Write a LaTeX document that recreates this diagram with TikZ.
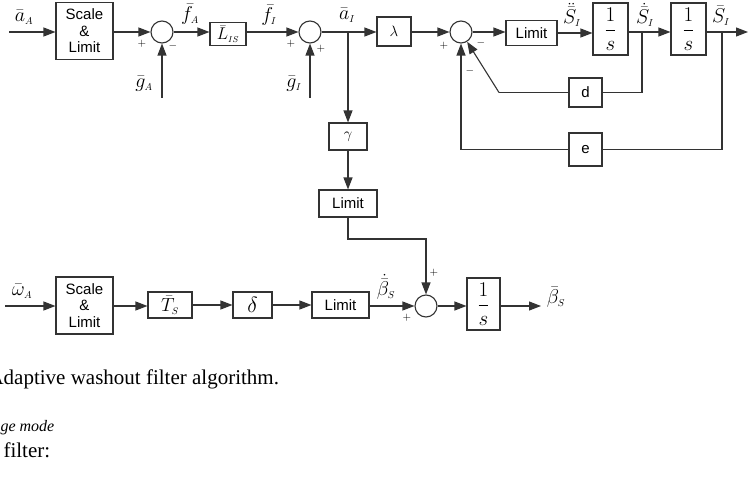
\RequirePackage{fix-cm}
\documentclass[tikz,border=0pt]{standalone}
\usepackage{amsmath, amssymb}
\usepackage{fontspec}
\setmainfont{Liberation Serif}
\setsansfont{Liberation Sans}
\usepackage{tikz}
\usetikzlibrary{arrows.meta, positioning, calc}

\newcommand{\sbs}[1]{_{\scriptscriptstyle #1}}

\tikzset{
  blk/.style={draw=black!80, rectangle, inner sep=0pt, align=center, font=\sffamily\fontsize{15}{16.5}\selectfont},
  mbig/.style={font=\fontsize{21}{21}\selectfont},
  sum/.style={draw=black!80, circle, minimum size=22pt, inner sep=0pt},
  lab/.style={inner sep=0pt, font=\fontsize{20}{20}\selectfont},
  sgn/.style={inner sep=0pt, font=\fontsize{11}{11}\selectfont},
}

\begin{document}
\begin{tikzpicture}[x=1pt, y=-1pt, line width=1.1pt, draw=black!80,
    >={Triangle[length=12pt,width=9pt]}]
    \useasboundingbox (0,0) rectangle (751,476);

    % canale traslazionale
    \coordinate (inA) at (9,32);
    \node[blk, minimum width=57pt, minimum height=57pt] (scA) at (84.5,31) {Scale\\\&\\Limit};
    \node[sum] (s1) at (162,32) {};
    \coordinate (gA) at (162,98);
    \node[blk, minimum width=36pt, minimum height=23pt, font=\fontsize{17}{17}\selectfont] (LIS) at (228,34) {$\bar{L}\sbs{IS}$};
    \node[sum] (s2) at (310,32) {};
    \coordinate (gI) at (310,98);
    \coordinate (aI) at (348,32);
    \node[blk, minimum width=34pt, minimum height=29pt] (lam) at (394,31.5) {$\lambda$};
    \node[sum] (s3) at (461,32) {};
    \node[blk, minimum width=51pt, minimum height=25pt] (lim1) at (531.5,33) {Limit};
    \node[blk, mbig, minimum width=35pt, minimum height=52pt] (int1) at (610.5,29) {$\dfrac{1}{s}$};
    \coordinate (sd) at (642,32);
    \node[blk, mbig, minimum width=35pt, minimum height=52pt] (int2) at (688.5,29) {$\dfrac{1}{s}$};
    \coordinate (se) at (722,32);
    \coordinate (outS) at (748,32);
    \node[blk, minimum width=33pt, minimum height=29pt] (d) at (585.5,92.5) {d};
    \coordinate (dl) at (499,92.5);
    \node[blk, minimum width=33pt, minimum height=33pt] (e) at (585.5,149.5) {e};

    \draw[->] (inA) -- (inA -| scA.west);
    \draw[->] (scA.east |- s1) -- (s1);
    \draw[->] (gA) -- (s1);
    \draw[->] (s1) -- (s1 -| LIS.west);
    \draw[->] (LIS.east |- s2) -- (s2);
    \draw[->] (gI) -- (s2);
    \draw[->] (s2) -- (s2 -| lam.west);
    \draw[->] (lam.east |- s3) -- (s3);
    \draw[->] (s3) -- (s3 -| lim1.west);
    \draw[->] (lim1) -- (lim1 -| int1.west);
    \draw[->] (int1.east |- sd) -- (sd -| int2.west);
    \draw[->] (int2.east |- se) -- (outS);
    \draw (sd) |- (d);
    \draw (d) -- (dl);
    \draw[->] (dl) -- (s3);
    \draw (se) |- (e);
    \draw[->] (e) -| (s3);

    % ramo gamma
    \node[blk, minimum width=38pt, minimum height=27pt] (gam) at (348,136.5) {$\gamma$};
    \node[blk, minimum width=58pt, minimum height=27pt] (lim2) at (348,203.5) {Limit};
    \coordinate (k) at (426,239);
    \draw[->] (aI) -- (gam);
    \draw[->] (gam) -- (lim2);

    % canale rotazionale
    \coordinate (inW) at (5,306);
    \node[blk, minimum width=57pt, minimum height=57pt] (scW) at (84.5,305.5) {Scale\\\&\\Limit};
    \node[blk, font=\fontsize{19}{19}\selectfont, minimum width=44pt, minimum height=26pt] (Ts) at (170,305) {$\bar{T}\sbs{S}$};
    \node[blk, font=\fontsize{22}{22}\selectfont, minimum width=39pt, minimum height=26pt] (del) at (252.5,305) {$\delta$};
    \node[blk, minimum width=57pt, minimum height=26pt] (lim3) at (340.5,305) {Limit};
    \node[sum] (s4) at (426,306) {};
    \node[blk, mbig, minimum width=33pt, minimum height=52pt] (int3) at (483.5,304) {$\dfrac{1}{s}$};
    \coordinate (outB) at (541,306);

    \draw[->] (lim2) |- (k) -- (s4);
    \draw[->] (inW) -- (inW -| scW.west);
    \draw[->] (scW.east |- s4) -- (s4 -| Ts.west);
    \draw[->] (Ts) -- (Ts -| del.west);
    \draw[->] (del) -- (del -| lim3.west);
    \draw[->] (lim3.east |- s4) -- (s4);
    \draw[->] (s4) -- (s4 -| int3.west);
    \draw[->] (int3.east |- s4) -- (outB);

    % etichette
    \node[lab] (laA) at (24,17) {$\bar{a}\sbs{A}$};
    \node[lab] (lfA) at (190,14) {$\bar{f}\sbs{A}$};
    \node[lab] (lgA) at (144,84) {$\bar{g}\sbs{A}$};
    \node[lab] (lfI) at (269,15) {$\bar{f}\sbs{I}$};
    \node[lab] (lgI) at (294,84) {$\bar{g}\sbs{I}$};
    \node[lab] (laI) at (347,15) {$\bar{a}\sbs{I}$};
    \node[lab] (lS2) at (572,15) {$\ddot{\bar{S}}\sbs{I}$};
    \node[lab] (lS1) at (645,15) {$\dot{\bar{S}}\sbs{I}$};
    \node[lab] (lS0) at (721,16) {$\bar{S}\sbs{I}$};
    \node[lab] (lwA) at (22,291) {$\bar{\omega}\sbs{A}$};
    \node[lab] (lbd) at (386,287) {$\dot{\bar{\beta}}\sbs{S}$};
    \node[lab] (lb) at (556,297) {$\bar{\beta}\sbs{S}$};

    % segni
    \node[sgn] (p1) at (142,44) {$+$};
    \node[sgn] (m1) at (173,46) {$-$};
    \node[sgn] (p2) at (291,44) {$+$};
    \node[sgn] (p3) at (321,49) {$+$};
    \node[sgn] (p4) at (444,46) {$+$};
    \node[sgn] (m2) at (481,43) {$-$};
    \node[sgn] (m3) at (470,71) {$-$};
    \node[sgn] (p5) at (407,318) {$+$};
    \node[sgn] (p6) at (434,273) {$+$};

    % testo sotto
    \node[anchor=base west, inner sep=0pt, font=\fontsize{21}{21}\selectfont] (cap) at (-12,384) {Adaptive washout filter algorithm.};
    \node[anchor=base west, inner sep=0pt, font=\itshape\fontsize{16}{16}\selectfont] (t1) at (0,431) {ge mode};
    \node[anchor=base west, inner sep=0pt, font=\fontsize{21}{21}\selectfont] (t2) at (3,457) {filter:};
\end{tikzpicture}
\end{document}
